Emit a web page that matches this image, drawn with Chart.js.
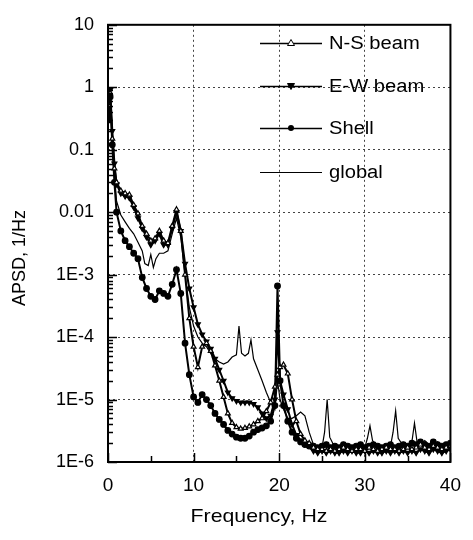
<!DOCTYPE html>
<html>
<head>
<meta charset="utf-8">
<script src="https://cdn.jsdelivr.net/npm/chart.js@4.4.1/dist/chart.umd.min.js"></script>
<style>
  html, body { margin: 0; padding: 0; background: #fff; }
  #wrap { width: 473px; height: 540px; }
</style>
</head>
<body>
<div id="wrap"><canvas id="chart" width="473" height="540"></canvas></div>
<script>
/* APSD vs frequency: three beam/shell signals (with markers) and the global one */

// Frequencies (Hz) shared by the three marker series
const freqs = [
  0.1, 0.25, 0.5, 0.75, 1, 1.5, 2, 2.5, 3, 3.5,
  4, 4.5, 5, 5.5, 6, 6.5, 7, 7.5, 8, 8.5,
  9, 9.5, 10, 10.5, 11, 11.5, 12, 12.5, 13, 13.5,
  14, 14.5, 15, 15.5, 16, 16.5, 17, 17.5, 18, 18.5,
  19, 19.5, 19.8, 20.1, 20.5, 21, 21.5, 22, 22.5, 23,
  23.5, 24, 24.5, 25, 25.5, 26, 26.5, 27, 27.5, 28,
  28.5, 29, 29.5, 30, 30.5, 31, 31.5, 32, 32.5, 33,
  33.5, 34, 34.5, 35, 35.5, 36, 36.5, 37, 37.5, 38,
  38.5, 39, 39.5, 40
];

const nsBeam = [
  0.5, 0.8, 0.15, 0.05, 0.03, 0.022, 0.02, 0.019, 0.013, 0.0095,
  0.006, 0.0045, 0.0035, 0.0038, 0.005, 0.0035, 0.0032, 0.006, 0.011, 0.005,
  0.001, 2e-4, 7e-5, 3.3e-5, 7e-5, 8e-5, 6e-5, 3.5e-5, 2e-5, 1.1e-5,
  6e-6, 4.2e-6, 3.6e-6, 3.4e-6, 3.5e-6, 3.7e-6, 4e-6, 4.5e-6, 5e-6, 6.5e-6,
  9e-6, 1.6e-5, 2.5e-5, 3.3e-5, 3.6e-5, 2.6e-5, 1e-5, 4.5e-6, 2.8e-6, 2.2e-6,
  2e-6, 1.7e-6, 1.6e-6, 1.6e-6, 1.5e-6, 1.6e-6, 1.5e-6, 1.6e-6, 1.7e-6, 1.6e-6,
  1.5e-6, 1.6e-6, 1.6e-6, 1.5e-6, 1.7e-6, 1.6e-6, 1.5e-6, 1.6e-6, 1.7e-6, 1.6e-6,
  1.6e-6, 1.5e-6, 1.6e-6, 1.7e-6, 1.6e-6, 1.7e-6, 1.9e-6, 1.7e-6, 1.6e-6, 1.8e-6,
  1.7e-6, 1.6e-6, 1.7e-6, 1.8e-6
];

const ewBeam = [
  0.4, 0.9, 0.2, 0.06, 0.028, 0.02, 0.018, 0.017, 0.012, 0.008,
  0.0055, 0.004, 0.003, 0.0035, 0.0045, 0.003, 0.003, 0.0055, 0.01, 0.005,
  0.0015, 6e-4, 3e-4, 1.6e-4, 1.1e-4, 8.5e-5, 6.5e-5, 4.5e-5, 3e-5, 2e-5,
  1.3e-5, 1.05e-5, 9.5e-6, 9e-6, 9e-6, 9e-6, 8.5e-6, 7.5e-6, 6e-6, 5e-6,
  5.5e-6, 1e-5, 1.2e-4, 2e-5, 1.2e-5, 7e-6, 4e-6, 2.7e-6, 2.2e-6, 2e-6,
  1.9e-6, 1.5e-6, 1.4e-6, 1.5e-6, 1.4e-6, 1.5e-6, 1.4e-6, 1.4e-6, 1.5e-6, 1.4e-6,
  1.5e-6, 1.4e-6, 1.4e-6, 1.5e-6, 1.4e-6, 1.5e-6, 1.4e-6, 1.4e-6, 1.5e-6, 1.4e-6,
  1.5e-6, 1.4e-6, 1.5e-6, 1.4e-6, 1.5e-6, 1.4e-6, 1.6e-6, 1.5e-6, 1.4e-6, 1.6e-6,
  1.5e-6, 1.4e-6, 1.5e-6, 1.6e-6
];

const shell = [
  0.3, 0.7, 0.12, 0.03, 0.01, 0.005, 0.0035, 0.0028, 0.0022, 0.0018,
  9e-4, 6e-4, 4.5e-4, 4e-4, 5.5e-4, 5e-4, 4.5e-4, 7e-4, 1.2e-3, 5e-4,
  8e-5, 2.5e-5, 1.1e-5, 9e-6, 1.2e-5, 1e-5, 8e-6, 6e-6, 4.8e-6, 4e-6,
  3.2e-6, 2.8e-6, 2.5e-6, 2.4e-6, 2.4e-6, 2.6e-6, 3e-6, 3.3e-6, 3.5e-6, 3.8e-6,
  4.5e-6, 8e-6, 6.6e-4, 2e-5, 8e-6, 4.5e-6, 3e-6, 2.4e-6, 2.1e-6, 1.9e-6,
  1.8e-6, 1.8e-6, 1.7e-6, 1.8e-6, 1.9e-6, 1.7e-6, 1.8e-6, 1.7e-6, 1.9e-6, 1.8e-6,
  1.7e-6, 1.8e-6, 1.9e-6, 1.7e-6, 1.8e-6, 1.9e-6, 1.8e-6, 1.7e-6, 1.8e-6, 1.9e-6,
  1.7e-6, 1.8e-6, 1.9e-6, 1.8e-6, 2.0e-6, 1.9e-6, 2.1e-6, 1.9e-6, 1.8e-6, 2.1e-6,
  1.9e-6, 1.8e-6, 1.9e-6, 2.0e-6
];

// The global signal is a plain line, sampled a bit finer around its peaks
const globalFreqs = [
  0.1, 0.25, 0.5, 0.75, 1, 1.5, 2, 2.5, 3, 3.5,
  4, 4.3, 4.7, 5, 5.3, 5.6, 6, 6.5, 7, 7.5,
  8, 8.5, 9, 9.5, 10, 10.5, 11, 11.5, 12, 12.5,
  13, 13.5, 14, 14.5, 15, 15.3, 15.6, 16, 16.4, 16.7,
  17, 17.5, 18, 18.5, 19, 19.5, 19.8, 20.1, 20.5, 21,
  21.5, 22, 22.5, 23, 23.5, 24, 24.5, 25, 25.3, 25.6,
  25.9, 26.5, 27, 27.5, 28, 28.5, 29, 29.5, 30, 30.3,
  30.6, 30.9, 31.5, 32, 32.5, 33, 33.3, 33.6, 33.9, 34.5,
  35, 35.5, 35.8, 36.1, 36.5, 37, 37.5, 38, 38.5, 39,
  39.5, 40
];

const globalApsd = [
  0.5, 0.85, 0.15, 0.04, 0.015, 0.009, 0.007, 0.0055, 0.0045, 0.0033,
  0.0024, 0.0015, 0.0014, 0.0021, 0.0013, 0.0018, 0.0022, 0.0022, 0.0024, 0.0045,
  0.008, 0.004, 0.001, 3e-4, 1.5e-4, 1e-4, 8e-5, 7e-5, 5.5e-5, 4.5e-5,
  4e-5, 3.7e-5, 4e-5, 4.8e-5, 5.2e-5, 1.5e-4, 5.5e-5, 5e-5, 5.5e-5, 9e-5,
  4.5e-5, 3e-5, 2e-5, 1.3e-5, 9e-6, 7e-6, 2e-5, 1e-5, 7e-6, 5e-6,
  5e-6, 5.5e-6, 6.3e-6, 5.5e-6, 3e-6, 1.9e-6, 1.7e-6, 1.7e-6, 3e-6, 1e-5,
  2.5e-6, 1.7e-6, 1.6e-6, 1.7e-6, 1.6e-6, 1.7e-6, 1.6e-6, 1.7e-6, 1.7e-6, 2.4e-6,
  3.8e-6, 2.2e-6, 1.7e-6, 1.8e-6, 1.7e-6, 1.8e-6, 3e-6, 6.6e-6, 2.4e-6, 1.8e-6,
  1.7e-6, 2.1e-6, 4.2e-6, 2.1e-6, 1.9e-6, 2.2e-6, 1.9e-6, 1.8e-6, 2.1e-6, 1.8e-6,
  1.9e-6, 1.8e-6
];

const seriesNames = ['N-S beam', 'E-W beam', 'Shell', 'global'];
const yTickValues = [10, 1, 0.1, 0.01, 1e-3, 1e-4, 1e-5, 1e-6];
const yTickLabels = ['10', '1', '0.1', '0.01', '1E-3', '1E-4', '1E-5', '1E-6'];
const xTickValues = [0, 10, 20, 30, 40];

const FONT = "'Liberation Sans', Arial, sans-serif";

function toPoints(xs, ys) {
  return xs.map((x, i) => ({ x: x, y: ys[i] }));
}

// --- marker drawing used by the legend ----------------------------------
function drawMarker(ctx, kind, x, y) {
  ctx.save();
  ctx.lineWidth = 1;
  ctx.strokeStyle = '#000';
  ctx.fillStyle = '#000';
  ctx.beginPath();
  if (kind === 'tri-open') {
    ctx.moveTo(x, y - 3.5); ctx.lineTo(x + 3.5, y + 2.5); ctx.lineTo(x - 3.5, y + 2.5); ctx.closePath();
    ctx.fillStyle = '#fff'; ctx.fill(); ctx.stroke();
  } else if (kind === 'tri-down') {
    ctx.moveTo(x, y + 3.5); ctx.lineTo(x + 3.5, y - 2.5); ctx.lineTo(x - 3.5, y - 2.5); ctx.closePath();
    ctx.fill(); ctx.stroke();
  } else if (kind === 'circle') {
    ctx.arc(x, y, 3, 0, Math.PI * 2);
    ctx.fill();
  }
  ctx.restore();
}

// text of the scanned original is a bit wider than Arial: stretch it a little
function wideText(ctx, text, x, y, align) {
  ctx.save();
  ctx.translate(x, y);
  ctx.scale(1.12, 1);
  ctx.textAlign = align;
  ctx.fillText(text, 0, 0);
  ctx.restore();
}

// --- frame, inner ticks, titles and legend -------------------------------
const decorPlugin = {
  id: 'decor',
  afterDraw(chart) {
    const { ctx, chartArea: a, scales } = chart;
    const xs = scales.x, ys = scales.y;
    ctx.save();
    ctx.setLineDash([]);
    ctx.strokeStyle = '#000';

    // inner ticks on the log axis (decades long, 2..9 short)
    ctx.lineWidth = 1.5;
    ctx.beginPath();
    for (let e = -6; e <= 1; e++) {
      for (let m = 1; m <= 9; m++) {
        const v = m * Math.pow(10, e);
        if (v > 10.0001) break;
        const py = Math.round(ys.getPixelForValue(v)) + 0.5;
        ctx.moveTo(a.left, py);
        ctx.lineTo(a.left + (m === 1 ? 9 : 5), py);
      }
    }
    // inner ticks on the frequency axis
    for (let f = 0; f <= 40; f += 5) {
      const px = Math.round(xs.getPixelForValue(f)) + 0.5;
      ctx.moveTo(px, a.bottom);
      ctx.lineTo(px, a.bottom - (f % 10 === 0 ? 9 : 6));
    }
    ctx.stroke();

    // frame
    ctx.lineWidth = 2;
    ctx.strokeRect(a.left, a.top, a.right - a.left, a.bottom - a.top);

    // axis titles
    ctx.fillStyle = '#000';
    ctx.textBaseline = 'middle';
    ctx.font = '19px ' + FONT;
    wideText(ctx, 'Frequency, Hz', 259, 517, 'center');
    ctx.save();
    ctx.translate(20, 258);
    ctx.rotate(-Math.PI / 2);
    ctx.textAlign = 'center';
    ctx.font = '18px ' + FONT;
    ctx.fillText('APSD, 1/Hz', 0, 0);
    ctx.restore();

    // legend
    const rows = [43, 86, 128, 172];
    const kinds = ['tri-open', 'tri-down', 'circle', null];
    ctx.font = '18px ' + FONT;
    rows.forEach((ry, i) => {
      ctx.lineWidth = i === 3 ? 1 : 1.5;
      ctx.beginPath();
      ctx.moveTo(260, ry + 0.5);
      ctx.lineTo(322, ry + 0.5);
      ctx.stroke();
      if (kinds[i]) drawMarker(ctx, kinds[i], 291, ry);
      wideText(ctx, seriesNames[i], 329, ry + 1, 'left');
    });
    ctx.restore();
  },
};

const markerSeries = (label, ys, style, rotation, fill) => ({
  label: label,
  data: toPoints(freqs, ys),
  borderColor: '#000',
  borderWidth: 2,
  pointStyle: style,
  pointRotation: rotation,
  pointRadius: 2.8,
  pointBorderWidth: 1.2,
  pointBorderColor: '#000',
  pointBackgroundColor: fill,
  tension: 0,
});

new Chart(document.getElementById('chart'), {
  type: 'line',
  data: {
    datasets: [
      markerSeries(seriesNames[0], nsBeam, 'triangle', 0, '#fff'),
      markerSeries(seriesNames[1], ewBeam, 'triangle', 180, '#000'),
      markerSeries(seriesNames[2], shell, 'circle', 0, '#000'),
      {
        label: seriesNames[3],
        data: toPoints(globalFreqs, globalApsd),
        borderColor: '#000',
        borderWidth: 1.2,
        pointRadius: 0,
        tension: 0,
      },
    ],
  },
  options: {
    responsive: false,
    animation: false,
    devicePixelRatio: 1,
    layout: { padding: { top: 17, right: 11, left: 0, bottom: 0 } },
    plugins: { legend: { display: false }, tooltip: { enabled: false } },
    scales: {
      x: {
        type: 'linear',
        min: 0, max: 40,
        afterFit: s => { s.height = 78; },
        afterBuildTicks: s => { s.ticks = xTickValues.map(v => ({ value: v })); },
        ticks: { color: '#000', padding: 12, font: { family: FONT, size: 19 }, maxRotation: 0 },
        grid: { color: '#444', lineWidth: 1, drawTicks: false },
        border: { display: false, dash: [2, 3] },
      },
      y: {
        type: 'logarithmic',
        min: 1e-6, max: 10,
        afterFit: s => { s.width = 108; },
        afterBuildTicks: s => { s.ticks = yTickValues.map(v => ({ value: v })); },
        ticks: {
          color: '#000', padding: 14, font: { family: FONT, size: 18 },
          callback: (v, i) => yTickLabels[i],
        },
        grid: { color: '#444', lineWidth: 1, drawTicks: false },
        border: { display: false, dash: [2, 3] },
      },
    },
  },
  plugins: [decorPlugin],
});
</script>
</body>
</html>
